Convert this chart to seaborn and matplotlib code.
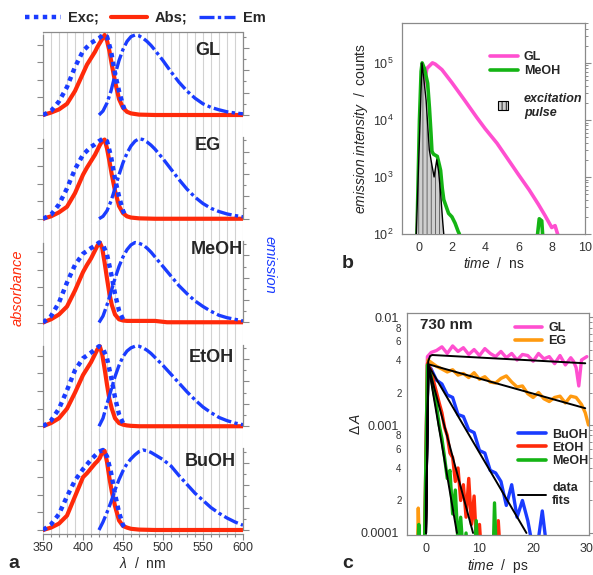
import numpy as np
import matplotlib
matplotlib.use("Agg")
import matplotlib.pyplot as plt
import seaborn as sns
from matplotlib.lines import Line2D
from matplotlib.patches import Patch, Rectangle
from matplotlib.legend_handler import HandlerPatch
from matplotlib.ticker import (FixedLocator, FuncFormatter, MultipleLocator,
                               NullFormatter, LogLocator)

# ---------------- panel a : steady state spectra (normalised) ----------------
SOLVENTS_A = ["GL", "EG", "MeOH", "EtOH", "BuOH"]

ABS_NM = [350, 360, 370, 380, 390, 400, 405, 410, 415, 418, 421, 424, 427,
          430, 433, 436, 440, 445, 450, 455, 460, 470, 490, 505, 600]
ABS_GL = [0.00, 0.03, 0.07, 0.14, 0.30, 0.52, 0.63, 0.71, 0.79, 0.85, 0.90, 0.95, 1.00,
          0.93, 0.80, 0.63, 0.42, 0.20, 0.09, 0.04, 0.02, 0.005, 0.0, 0.0, 0.0]
ABS_EG = [0.00, 0.03, 0.08, 0.15, 0.32, 0.55, 0.64, 0.72, 0.80, 0.86, 0.92, 0.97, 0.99,
          0.88, 0.72, 0.55, 0.35, 0.16, 0.07, 0.03, 0.015, 0.005, 0.0, 0.0, 0.0]
ABS_MEOH = [0.00, 0.04, 0.10, 0.20, 0.40, 0.63, 0.72, 0.80, 0.90, 0.96, 1.00, 0.93, 0.75,
            0.55, 0.36, 0.22, 0.10, 0.04, 0.025, 0.02, 0.02, 0.02, 0.02, 0.003, 0.003]
ABS_ETOH = [0.00, 0.04, 0.10, 0.22, 0.42, 0.64, 0.72, 0.80, 0.90, 0.96, 1.00, 0.90, 0.72,
            0.52, 0.34, 0.22, 0.10, 0.04, 0.02, 0.01, 0.005, 0.0, 0.0, 0.0, 0.0]
ABS_BUOH = [0.00, 0.03, 0.08, 0.18, 0.42, 0.66, 0.71, 0.77, 0.83, 0.86, 0.90, 0.97, 0.99,
            0.85, 0.65, 0.48, 0.30, 0.12, 0.05, 0.03, 0.015, 0.005, 0.0, 0.0, 0.0]

EXC_NM = [350, 360, 370, 380, 390, 400, 410, 415, 420, 425, 430, 435, 440, 445, 450, 454]
EXC_GL = [0.0, 0.05, 0.17, 0.35, 0.60, 0.80, 0.90, 0.93, 0.96, 1.00, 0.98, 0.80, 0.52, 0.30, 0.12, 0.02]
EXC_EG = [0.0, 0.05, 0.18, 0.38, 0.62, 0.80, 0.90, 0.93, 0.97, 1.00, 0.97, 0.78, 0.50, 0.28, 0.10, 0.02]
EXC_MEOH = [0.0, 0.08, 0.25, 0.50, 0.72, 0.86, 0.93, 0.96, 1.00, 0.97, 0.85, 0.62, 0.36, 0.15, 0.04, 0.01]
EXC_ETOH = [0.0, 0.07, 0.22, 0.45, 0.70, 0.85, 0.92, 0.96, 1.00, 0.97, 0.85, 0.62, 0.36, 0.15, 0.04, 0.01]
EXC_BUOH = [0.0, 0.07, 0.20, 0.42, 0.62, 0.76, 0.88, 0.93, 0.98, 1.00, 0.92, 0.72, 0.45, 0.22, 0.06, 0.01]

EM_NM = [420, 425, 430, 435, 440, 445, 450, 455, 460, 465, 470, 475, 480, 485, 490,
         500, 510, 520, 530, 540, 550, 560, 570, 580, 590, 600]
EM_GL = [0.0, 0.05, 0.15, 0.30, 0.50, 0.68, 0.82, 0.92, 0.98, 1.00, 0.99, 0.96, 0.92, 0.87, 0.81,
         0.68, 0.54, 0.41, 0.30, 0.21, 0.14, 0.095, 0.065, 0.04, 0.025, 0.015]
EM_EG = [0.0, 0.03, 0.10, 0.22, 0.38, 0.55, 0.70, 0.82, 0.91, 0.97, 1.00, 0.99, 0.96, 0.92, 0.87,
         0.75, 0.62, 0.49, 0.37, 0.27, 0.19, 0.13, 0.09, 0.06, 0.04, 0.025]
EM_MEOH = [0.0, 0.08, 0.22, 0.38, 0.55, 0.70, 0.82, 0.91, 0.97, 1.00, 0.99, 0.97, 0.93, 0.88, 0.82,
           0.70, 0.58, 0.46, 0.36, 0.27, 0.20, 0.14, 0.09, 0.06, 0.04, 0.02]
EM_ETOH = [0.0, 0.10, 0.28, 0.45, 0.62, 0.76, 0.87, 0.94, 0.98, 1.00, 1.00, 0.98, 0.95, 0.91, 0.86,
           0.76, 0.65, 0.54, 0.43, 0.33, 0.24, 0.17, 0.11, 0.07, 0.04, 0.02]
EM_BUOH = [0.0, 0.10, 0.22, 0.35, 0.50, 0.63, 0.74, 0.83, 0.89, 0.94, 0.98, 1.00, 0.99, 0.97, 0.94,
           0.88, 0.80, 0.68, 0.57, 0.46, 0.37, 0.28, 0.21, 0.15, 0.10, 0.06]

# ---------------- panel b : fluorescence decays ----------------
GL_T_NS = [-0.1, 0.1, 0.3, 0.5, 0.83, 1.0, 1.4, 2.0, 2.77, 3.5, 4.0, 4.71, 5.5, 6.0,
           6.65, 7.2, 7.6, 8.0, 8.2, 8.4]
GL_COUNTS = [100, 4000, 40000, 80000, 100000, 95000, 76000, 45000, 22000, 11000, 7000,
             3900, 1800, 1100, 590, 330, 210, 130, 140, 90]
MEOH_T_NS = [-0.1, 0.05, 0.15, 0.21, 0.35, 0.54, 0.65, 0.74, 0.8, 0.9, 1.12, 1.25, 1.32,
             1.42, 1.51, 1.8, 2.0, 2.19, 2.38, 2.45]
MEOH_COUNTS = [100, 10000, 71000, 100000, 79000, 44000, 16000, 5900, 2800, 2500, 2300,
               1600, 1300, 630, 400, 230, 200, 155, 110, 100]
MEOH_BLIP_T_NS = [7.15, 7.25, 7.4, 7.45]
MEOH_BLIP_COUNTS = [100, 185, 170, 100]
PULSE_T_NS = [-0.14, 0.2, 0.3, 0.45, 0.64, 0.8, 0.93, 1.09, 1.2, 1.32, 1.45, 1.51]
PULSE_COUNTS = [100, 100000, 56000, 22000, 3000, 1600, 1000, 2000, 1260, 520, 160, 100]

# ---------------- panel c : transient absorption at 730 nm (values in 1e-3) ----------------
T_GL = [-0.2, 0.3, 1, 2, 3, 4, 5, 6, 7, 8, 9, 10, 11, 12, 13, 14, 15, 16, 17, 18, 19, 20,
        21, 22, 23, 24, 25, 26, 27, 27.5, 28, 28.5, 29, 30]
DA_GL = [0.05, 4.3, 4.7, 4.9, 5.3, 4.6, 5.4, 4.8, 5.2, 4.5, 5.0, 4.4, 5.1, 4.6, 4.3, 4.8,
         4.2, 4.6, 4.0, 4.5, 4.4, 3.9, 4.6, 4.1, 4.3, 3.7, 4.4, 3.6, 4.2, 3.9, 3.4, 2.3, 4.0, 4.3]
T_EG = [-1.6, -1.4, -1.1, -0.2, 0.4, 1, 2, 3, 4, 5, 6, 7, 8, 9, 10, 11, 12, 13, 14, 15,
        16, 17, 18, 19, 20, 21, 22, 23, 24, 25, 26, 27, 28, 29, 29.7, 30.3]
DA_EG = [0.05, 0.17, 0.05, 0.05, 4.0, 3.8, 3.5, 3.3, 3.1, 3.25, 2.9, 3.0, 2.75, 3.05, 2.65,
         2.8, 2.5, 2.45, 2.7, 2.85, 2.5, 2.25, 2.3, 1.95, 1.8, 2.0, 1.75, 1.65, 1.8, 1.85,
         1.6, 1.85, 1.8, 1.55, 1.3, 1.0]
T_BUOH = [-0.2, 0.4, 1, 2, 3, 4, 5, 6, 7, 8, 9, 10, 11, 12, 13, 14, 15, 16, 17, 18, 19,
          20, 21, 21.7, 22.3, 23]
DA_BUOH = [0.05, 3.6, 3.3, 2.6, 2.4, 1.9, 1.8, 1.25, 1.2, 0.9, 0.85, 0.58, 0.55, 0.38,
           0.36, 0.3, 0.18, 0.28, 0.14, 0.2, 0.13, 0.07, 0.09, 0.16, 0.09, 0.05]
T_ETOH = [-0.3, 0.3, 1, 1.5, 2, 2.5, 3, 3.5, 4, 4.5, 5, 5.5, 6, 6.5, 7, 7.5, 8, 8.5, 9,
          9.5, 10, 10.5, 11, 13, 13.5, 14]
DA_ETOH = [0.05, 3.7, 3.2, 2.5, 2.0, 1.6, 1.3, 0.95, 0.8, 0.55, 0.5, 0.3, 0.4, 0.2, 0.28,
           0.14, 0.32, 0.12, 0.22, 0.07, 0.12, 0.05, 0.05, 0.05, 0.13, 0.05]
T_MEOH = [-1.6, -1.3, -1.0, -0.3, 0.3, 1, 1.5, 2, 2.5, 3, 3.5, 4, 4.5, 5, 5.5, 6, 6.5, 7,
          7.5, 8, 9, 9.4, 9.8, 12.5, 12.8, 13.2]
DA_MEOH = [0.05, 0.12, 0.05, 0.05, 3.6, 2.8, 2.0, 1.5, 1.0, 0.75, 0.5, 0.32, 0.38, 0.15,
           0.25, 0.08, 0.14, 0.06, 0.1, 0.05, 0.05, 0.13, 0.05, 0.05, 0.19, 0.05]

# exponential fits (end points of straight lines on the log axis)
FIT_GL_T = [0.05, 0.45, 0.8, 1.2, 29.7]
FIT_GL = [0.1, 3.9, 4.35, 4.45, 3.73]
FIT_EG_T = [0.05, 0.5, 29.7]
FIT_EG = [0.1, 3.65, 1.43]
FIT_BUOH_T = [0.05, 0.5, 18.75]
FIT_BUOH = [0.1, 3.55, 0.1]
FIT_ETOH_T = [0.05, 0.5, 8.8]
FIT_ETOH = [0.1, 3.5, 0.1]
FIT_MEOH_T = [0.05, 0.5, 5.8]
FIT_MEOH = [0.1, 3.5, 0.1]

# colours
RED = "#ff2a0a"
BLUE = "#1a3cff"
PINK = "#ff4fd0"
GREEN = "#14b414"
ORANGE = "#ff9a10"
GRAY = "#8a8a8a"

sns.set_theme(style="white")
plt.rcParams["font.family"] = ["Liberation Sans", "DejaVu Sans"]
plt.rcParams["mathtext.fontset"] = "custom"
plt.rcParams["mathtext.rm"] = "Liberation Sans"
plt.rcParams["mathtext.it"] = "Liberation Sans:italic"
plt.rcParams["mathtext.bf"] = "Liberation Sans:bold"
plt.rcParams["hatch.linewidth"] = 0.6
plt.rcParams["xtick.color"] = "#555555"
plt.rcParams["ytick.color"] = "#555555"

W, H = 593, 575


def box(left, top, right, bottom):
    """pixel box -> figure fraction rect"""
    return [left / W, 1 - bottom / H, (right - left) / W, (bottom - top) / H]


def line(ax, x, y, **kw):
    sns.lineplot(x=x, y=y, ax=ax, estimator=None, sort=False, **kw)


def small_box(legend, orig_handle, xdescent, ydescent, width, height, fontsize):
    # square legend key for the hatched pulse
    return Rectangle((width * 0.3 - xdescent, -ydescent), height * 1.1, height)


fig = plt.figure(figsize=(W / 100, H / 100), dpi=100)

# ================= panel a =================
abs_data = dict(zip(SOLVENTS_A, [ABS_GL, ABS_EG, ABS_MEOH, ABS_ETOH, ABS_BUOH]))
exc_data = dict(zip(SOLVENTS_A, [EXC_GL, EXC_EG, EXC_MEOH, EXC_ETOH, EXC_BUOH]))
em_data = dict(zip(SOLVENTS_A, [EM_GL, EM_EG, EM_MEOH, EM_ETOH, EM_BUOH]))
label_pos = {"GL": (572, 0.81), "EG": (572, 0.92), "MeOH": (600, 0.91),
             "EtOH": (588, 0.86), "BuOH": (591, 0.86)}

for i, solv in enumerate(SOLVENTS_A):
    base = 115 + 103.75 * i
    top = 32 if i == 0 else base - 100
    ax = fig.add_axes(box(43, top, 243, base + 4))
    ax.set_xlim(350, 600)
    ax.set_ylim(-0.05, (base - top) / 80)
    ax.xaxis.set_major_locator(MultipleLocator(50))
    ax.xaxis.set_minor_locator(MultipleLocator(10))
    ax.grid(axis="x", which="both", color="#d2d2d2", lw=0.8)
    ax.grid(axis="y", visible=False)
    ax.set_axisbelow(True)

    line(ax, ABS_NM, abs_data[solv], color=RED, lw=3.0, zorder=3)
    line(ax, EXC_NM, exc_data[solv], color=BLUE, lw=3.2, linestyle=(0, (1, 1)), zorder=4)
    line(ax, EM_NM, em_data[solv], color=BLUE, lw=2.4, linestyle=(0, (4.5, 1, 1, 1)), zorder=4)

    lx, ly = label_pos[solv]
    ax.text(lx, ly, solv, ha="right", va="center", fontsize=13, fontweight="bold")

    ax.set_yticks([0, 0.22, 0.44, 0.66, 0.88])
    ax.set_yticklabels([])
    ax.tick_params(axis="y", which="both", left=True, direction="out", length=4,
                   width=0.8, color=GRAY)
    for sp in ["left", "right", "top", "bottom"]:
        ax.spines[sp].set_color(GRAY)
        ax.spines[sp].set_linewidth(0.9)
    ax.spines["left"].set_bounds(0, 1.0)
    ax.spines["right"].set_visible(False)
    ax.spines["top"].set_visible(i == 0)
    ax.spines["bottom"].set_visible(i == 4)

    if i == 4:
        ax.tick_params(axis="x", which="major", bottom=True, direction="out", length=4,
                       width=0.8, color=GRAY, labelsize=9, labelcolor="#333333", pad=2)
        ax.tick_params(axis="x", which="minor", bottom=True, direction="out", length=2.5,
                       width=0.8, color=GRAY)
        ax.set_xlabel(r"$\mathit{\lambda}$  /  nm", fontsize=10, labelpad=1)
    else:
        ax.tick_params(axis="x", which="both", bottom=False, labelbottom=False)
    ax.set_ylabel("")

    ax2 = ax.twinx()
    ax2.set_ylim(ax.get_ylim())
    ax2.set_yticks([0, 0.28, 0.56, 0.84])
    ax2.set_yticks([0.14, 0.42, 0.70, 0.98], minor=True)
    ax2.set_yticklabels([])
    ax2.tick_params(axis="y", which="major", right=True, direction="out", length=4,
                    width=0.8, color=GRAY)
    ax2.tick_params(axis="y", which="minor", right=True, direction="out", length=2.5,
                    width=0.8, color=GRAY)
    ax2.grid(False)
    for sp in ["left", "top", "bottom"]:
        ax2.spines[sp].set_visible(False)
    ax2.spines["right"].set_color(GRAY)
    ax2.spines["right"].set_linewidth(0.9)
    ax2.spines["right"].set_bounds(0, 1.02)

leg_handles = [Line2D([], [], color=BLUE, lw=3.2, linestyle=(0, (1, 1))),
               Line2D([], [], color=RED, lw=3.0),
               Line2D([], [], color=BLUE, lw=2.4, linestyle=(0, (4.5, 1, 1, 1)))]
fig.legend(leg_handles, ["Exc;", "Abs;", "Em"], loc="center",
           bbox_to_anchor=(145 / W, 1 - 18 / H), ncol=3, frameon=False,
           prop={"weight": "bold", "size": 10.5}, handlelength=2.5,
           handletextpad=0.5, columnspacing=0.8)

fig.text(18 / W, 1 - 288 / H, "absorbance", rotation=90, color=RED, style="italic",
         fontsize=10.5, ha="center", va="center")
fig.text(270 / W, 1 - 265 / H, "emission", rotation=-90, color=BLUE, style="italic",
         fontsize=10.5, ha="center", va="center")

# ================= panel b =================
axb = fig.add_axes(box(402, 23, 585, 234))
axb.set_yscale("log")
line(axb, GL_T_NS, GL_COUNTS, color=PINK, lw=2.6, zorder=2)
line(axb, MEOH_T_NS, MEOH_COUNTS, color=GREEN, lw=2.6, zorder=3)
line(axb, MEOH_BLIP_T_NS, MEOH_BLIP_COUNTS, color=GREEN, lw=2.6, zorder=3)
axb.fill_between(PULSE_T_NS, 100, PULSE_COUNTS, facecolor="#cfcfcf", edgecolor="#555555",
                 hatch="||||", linewidth=0, zorder=4)
line(axb, PULSE_T_NS, PULSE_COUNTS, color="black", lw=1.0, zorder=5)
axb.set_xlim(-1, 10)
axb.set_ylim(100, 5e5)
axb.xaxis.set_major_locator(MultipleLocator(2))
axb.xaxis.set_minor_locator(MultipleLocator(0.5))
axb.yaxis.set_major_locator(LogLocator(base=10, numticks=10))
axb.yaxis.set_minor_locator(LogLocator(base=10, subs=np.arange(2, 10), numticks=10))
axb.yaxis.set_minor_formatter(NullFormatter())
axb.tick_params(which="major", direction="out", length=4, width=0.8, color=GRAY,
                labelsize=9, labelcolor="#333333", right=True, pad=2)
axb.tick_params(which="minor", direction="out", length=2, width=0.7, color=GRAY, right=True)
for sp in axb.spines.values():
    sp.set_color(GRAY)
    sp.set_linewidth(0.9)
axb.set_xlabel(r"$\mathit{time}$  /  ns", fontsize=10, labelpad=1)
axb.set_ylabel(r"$\mathit{emission\ intensity}$  /  counts", fontsize=10, labelpad=2)
axb.grid(False)

pulse_key = Patch(facecolor="#cfcfcf", edgecolor="black", hatch="||||", lw=0.8)
b_handles = [Line2D([], [], color=PINK, lw=2.6), Line2D([], [], color=GREEN, lw=2.6),
             Line2D([], [], color="none"), pulse_key]
legb = axb.legend(b_handles, ["GL", "MeOH", "", "excitation\npulse"], loc="upper left",
                  bbox_to_anchor=(0.42, 0.92), frameon=False,
                  prop={"weight": "bold", "size": 9}, handlelength=2.2,
                  handletextpad=0.5, labelspacing=0.15,
                  handler_map={pulse_key: HandlerPatch(patch_func=small_box)})
legb.get_texts()[3].set_style("italic")

# ================= panel c =================
axc = fig.add_axes(box(407, 313, 589, 535))
axc.set_yscale("log")
series_c = [(T_GL, DA_GL, PINK), (T_EG, DA_EG, ORANGE), (T_BUOH, DA_BUOH, BLUE),
            (T_ETOH, DA_ETOH, RED), (T_MEOH, DA_MEOH, GREEN)]
for t, da, col in series_c:
    line(axc, t, np.array(da) * 1e-3, color=col, lw=2.4)
fits_c = [(FIT_GL_T, FIT_GL), (FIT_EG_T, FIT_EG), (FIT_BUOH_T, FIT_BUOH),
          (FIT_ETOH_T, FIT_ETOH), (FIT_MEOH_T, FIT_MEOH)]
for t, f in fits_c:
    line(axc, t, np.array(f) * 1e-3, color="black", lw=1.4, zorder=5)
axc.set_xlim(-3.5, 30.4)
axc.set_ylim(9.58e-5, 1.09e-2)
axc.xaxis.set_major_locator(MultipleLocator(10))
axc.xaxis.set_minor_locator(MultipleLocator(2))
axc.yaxis.set_major_locator(FixedLocator([1e-4, 1e-3, 1e-2]))
axc.yaxis.set_major_formatter(FuncFormatter(lambda v, p: {1e-4: "0.0001", 1e-3: "0.001",
                                                           1e-2: "0.01"}.get(v, "")))
axc.yaxis.set_minor_locator(LogLocator(base=10, subs=np.arange(2, 10), numticks=10))


def minor_label(v, p):
    d = int(round(v / 10 ** np.floor(np.log10(v) + 1e-9)))
    return str(d) if d in (2, 4, 6, 8) else ""


axc.yaxis.set_minor_formatter(FuncFormatter(minor_label))
axc.tick_params(which="major", direction="out", length=4, width=0.8, color=GRAY,
                labelsize=9, labelcolor="#333333", right=True, pad=2)
axc.tick_params(which="minor", direction="out", length=2, width=0.7, color=GRAY,
                labelsize=7, labelcolor="#333333", right=True, pad=2)
for sp in axc.spines.values():
    sp.set_color(GRAY)
    sp.set_linewidth(0.9)
axc.set_xlabel(r"$\mathit{time}$  /  ps", fontsize=10, labelpad=1)
axc.set_ylabel(r"$\Delta\,\mathit{A}$", fontsize=10, labelpad=-2)
axc.grid(False)
axc.text(0.07, 0.946, "730 nm", transform=axc.transAxes, fontsize=11, fontweight="bold",
         ha="left", va="center")

c1 = axc.legend([Line2D([], [], color=PINK, lw=2.6), Line2D([], [], color=ORANGE, lw=2.6)],
                ["GL", "EG"], loc="upper left", bbox_to_anchor=(0.53, 1.01), frameon=False,
                prop={"weight": "bold", "size": 9}, handlelength=2.2, handletextpad=0.5,
                labelspacing=0.1)
axc.add_artist(c1)
axc.legend([Line2D([], [], color=BLUE, lw=2.6), Line2D([], [], color=RED, lw=2.6),
            Line2D([], [], color=GREEN, lw=2.6), Line2D([], [], color="none"),
            Line2D([], [], color="black", lw=1.4)],
           ["BuOH", "EtOH", "MeOH", "", "data\nfits"], loc="upper left",
           bbox_to_anchor=(0.55, 0.53), frameon=False,
           prop={"weight": "bold", "size": 9}, handlelength=2.2, handletextpad=0.5,
           labelspacing=0.1)

# panel letters
fig.text(8 / W, 1 - 563 / H, "a", fontsize=14, fontweight="bold", va="center")
fig.text(342 / W, 1 - 263 / H, "b", fontsize=14, fontweight="bold", va="center")
fig.text(342 / W, 1 - 563 / H, "c", fontsize=14, fontweight="bold", va="center")

fig.savefig("out.png", dpi=100)
